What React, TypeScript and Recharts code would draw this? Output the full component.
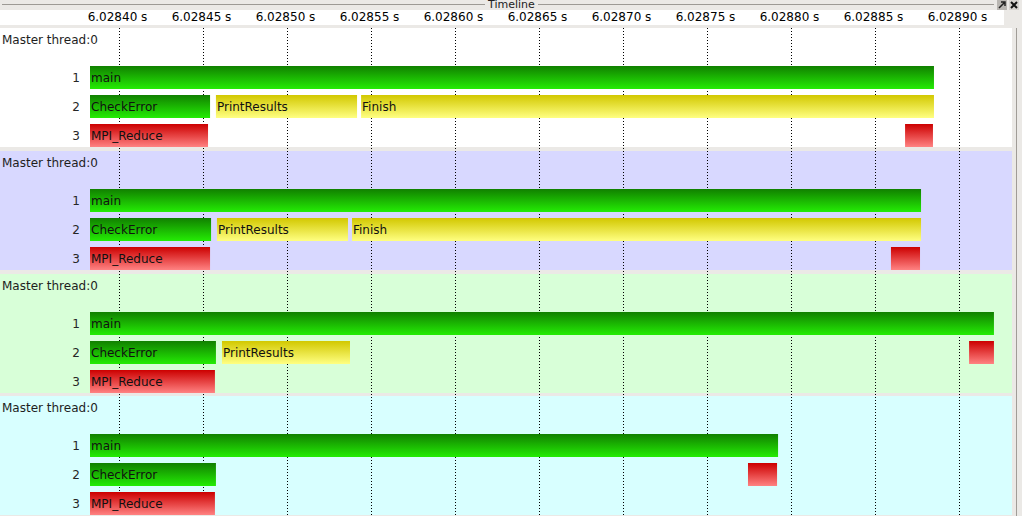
import React from 'react'
import { BarChart, Bar, XAxis, YAxis, CartesianGrid } from 'recharts'

// ---------------------------------------------------------------------------
// data: one list of call segments per process (times in seconds)
// ---------------------------------------------------------------------------
type Kind = 'fn' | 'io' | 'mpi'
type Seg = { row: string; name: string; start: number; end: number; kind: Kind }

const T_MIN = 6.02838244
const T_MAX = 6.02893125
const TIME_TICKS = [
  6.0284, 6.02845, 6.0285, 6.02855, 6.0286, 6.02865, 6.0287, 6.02875, 6.0288, 6.02885, 6.0289,
]
const ROWS = ['1', '2', '3']
const PANEL_TITLES = ['Master thread:0', 'Master thread:0', 'Master thread:0', 'Master thread:0']

const PROC_A: Seg[] = [
  { row: '1', name: 'main', start: 6.02838, end: 6.0288848, kind: 'fn' },
  { row: '2', name: 'CheckError', start: 6.02838, end: 6.0284539, kind: 'fn' },
  { row: '2', name: 'PrintResults', start: 6.0284574, end: 6.0285414, kind: 'io' },
  { row: '2', name: 'Finish', start: 6.0285438, end: 6.0288848, kind: 'io' },
  { row: '3', name: 'MPI_Reduce', start: 6.02838, end: 6.0284527, kind: 'mpi' },
  { row: '3', name: '', start: 6.0288676, end: 6.0288842, kind: 'mpi' },
]

const PROC_B: Seg[] = [
  { row: '1', name: 'main', start: 6.02838, end: 6.0288771, kind: 'fn' },
  { row: '2', name: 'CheckError', start: 6.02838, end: 6.0284545, kind: 'fn' },
  { row: '2', name: 'PrintResults', start: 6.028458, end: 6.028536, kind: 'io' },
  { row: '2', name: 'Finish', start: 6.0285384, end: 6.0288771, kind: 'io' },
  { row: '3', name: 'MPI_Reduce', start: 6.02838, end: 6.0284539, kind: 'mpi' },
  { row: '3', name: '', start: 6.0288592, end: 6.0288765, kind: 'mpi' },
]

const PROC_C: Seg[] = [
  { row: '1', name: 'main', start: 6.02838, end: 6.0289205, kind: 'fn' },
  { row: '2', name: 'CheckError', start: 6.02838, end: 6.0284574, kind: 'fn' },
  { row: '2', name: 'PrintResults', start: 6.028461, end: 6.0285372, kind: 'io' },
  { row: '2', name: '', start: 6.0289057, end: 6.0289205, kind: 'mpi' },
  { row: '3', name: 'MPI_Reduce', start: 6.02838, end: 6.0284568, kind: 'mpi' },
]

const PROC_D: Seg[] = [
  { row: '1', name: 'main', start: 6.02838, end: 6.028792, kind: 'fn' },
  { row: '2', name: 'CheckError', start: 6.02838, end: 6.0284574, kind: 'fn' },
  { row: '2', name: '', start: 6.0287741, end: 6.0287914, kind: 'mpi' },
  { row: '3', name: 'MPI_Reduce', start: 6.02838, end: 6.0284568, kind: 'mpi' },
]

const PROCS = [PROC_A, PROC_B, PROC_C, PROC_D]

// ---------------------------------------------------------------------------
// look
// ---------------------------------------------------------------------------
const FONT = '"DejaVu Sans", Verdana, sans-serif'
const W = 1012
const LEFT = 90
const PANEL_TOP = [28, 151, 274, 396]
const PANEL_H = 119
const PANEL_BG = ['#ffffff', '#d8d8ff', '#d8ffd8', '#d8ffff']
const FRAME = '#ebe9e6'

const GRAD: Record<Kind, [string, string]> = {
  fn: ['#118000', '#24ec04'], // green
  io: ['#d2c800', '#ffff82'], // yellow
  mpi: ['#cc0000', '#ff8282'], // red
}

const SLOTS = [0, 1, 2]

// one row object per timeline row; v0..v2 are [start, end] ranges
function buildRows(segs: Seg[]) {
  return ROWS.map((r) => {
    const mine = segs.filter((s) => s.row === r)
    const obj: any = { row: r }
    SLOTS.forEach((i) => {
      if (mine[i]) {
        obj[`v${i}`] = [mine[i].start, mine[i].end]
        obj[`seg${i}`] = mine[i]
      }
    })
    return obj
  })
}

const fmtTick = (v: number) => `${v.toFixed(5)} s`

function TimeTick(props: any) {
  const { x, payload } = props
  return (
    <text x={x - 2} y={21} textAnchor="middle" fontSize={12} fontFamily={FONT} fill="#000">
      {fmtTick(payload.value)}
    </text>
  )
}

function RowTick(props: any) {
  const { y, payload } = props
  return (
    <text x={80} y={y} dy="0.36em" textAnchor="end" fontSize={12} fontFamily={FONT} fill="#262626">
      {payload.value}
    </text>
  )
}

const makeShape = (slot: number, pid: number) => (p: any) => {
  const seg: Seg | undefined = p.payload && p.payload[`seg${slot}`]
  if (!seg || !(p.width > 0)) return null
  const x0 = Math.max(p.x, LEFT)
  const w = p.x + p.width - x0
  const showText = seg.name && seg.name.length * 7.6 < w - 2
  return (
    <g>
      <rect x={x0} y={p.y} width={w} height={p.height} fill={`url(#grad-${seg.kind}-${pid})`} />
      {showText ? (
        <text
          x={x0 + 1}
          y={p.y + p.height / 2}
          dy="0.36em"
          fontSize={12}
          fontFamily={FONT}
          fill="#111"
        >
          {seg.name}
        </text>
      ) : null}
    </g>
  )
}

function Panel({ pid }: { pid: number }) {
  const rows = buildRows(PROCS[pid])
  return (
    <div style={{ position: 'absolute', left: 0, top: PANEL_TOP[pid] }}>
      <BarChart
        width={W}
        height={122}
        data={rows}
        layout="vertical"
        margin={{ top: 35, right: 0, bottom: 0, left: 0 }}
        barSize={23}
        barGap={-23}
        barCategoryGap={0}
      >
        <defs>
          {(Object.keys(GRAD) as Kind[]).map((k) => (
            <linearGradient key={k} id={`grad-${k}-${pid}`} x1="0" y1="0" x2="0" y2="1">
              <stop offset="0%" stopColor={GRAD[k][0]} />
              <stop offset="100%" stopColor={GRAD[k][1]} />
            </linearGradient>
          ))}
        </defs>
        <XAxis type="number" domain={[T_MIN, T_MAX]} allowDataOverflow hide />
        <YAxis
          type="category"
          dataKey="row"
          width={LEFT}
          axisLine={false}
          tickLine={false}
          tick={<RowTick />}
        />
        {SLOTS.map((i) => (
          <Bar key={i} dataKey={`v${i}`} isAnimationActive={false} shape={makeShape(i, pid)} />
        ))}
      </BarChart>
    </div>
  )
}

export default function App() {
  return (
    <div
      style={{
        position: 'absolute',
        left: 0,
        top: 0,
        width: 1022,
        height: 516,
        background: FRAME,
        overflow: 'hidden',
        fontFamily: FONT,
      }}
    >
      {/* dock title */}
      <div style={{ position: 'absolute', left: 2, top: 4, width: 483, height: 1, background: '#9d9a95' }} />
      <div style={{ position: 'absolute', left: 538, top: 4, width: 456, height: 1, background: '#9d9a95' }} />
      <div style={{ position: 'absolute', left: 488, top: -2, fontSize: 11, lineHeight: '14px', color: '#222' }}>
        Timeline
      </div>
      <svg style={{ position: 'absolute', left: 996, top: 0 }} width={26} height={11}>
        <rect x={1} y={0} width={10} height={10} fill="#b9b6b2" />
        <path d="M3 8 L9 2 M5 2 L9 2 L9 6" stroke="#222" strokeWidth={1.5} fill="none" />
        <rect x={13} y={0} width={10} height={10} fill="#d6d3cf" />
        <path d="M15 2 L21 8 M21 2 L15 8" stroke="#111" strokeWidth={2} />
      </svg>

      {/* axis strip */}
      <div style={{ position: 'absolute', left: 0, top: 10, width: 1004, height: 15, background: '#fff' }} />

      {/* process panels */}
      {PANEL_TOP.map((t, i) => (
        <div
          key={i}
          style={{ position: 'absolute', left: 0, top: t, width: W, height: PANEL_H, background: PANEL_BG[i] }}
        />
      ))}
      <div style={{ position: 'absolute', left: 1016, top: 28, width: 1, height: 488, background: '#a09c97' }} />

      {/* time axis + dotted grid at the ticks only */}
      <div style={{ position: 'absolute', left: 0, top: 0 }}>
        <BarChart width={W} height={516} data={[{ t: T_MIN }]} margin={{ top: 0, right: 0, bottom: 0, left: LEFT }}>
          <XAxis
            dataKey="t"
            type="number"
            orientation="top"
            height={28}
            domain={[T_MIN, T_MAX]}
            ticks={TIME_TICKS}
            interval={0}
            allowDataOverflow
            axisLine={false}
            tickLine={false}
            tick={<TimeTick />}
          />
          <CartesianGrid horizontal={false} syncWithTicks stroke="#000" strokeDasharray="1 2" />
        </BarChart>
      </div>

      {PANEL_TOP.map((t, i) => (
        <React.Fragment key={i}>
          <div
            style={{
              position: 'absolute',
              left: 2,
              top: t + 4,
              fontSize: 12,
              lineHeight: '16px',
              color: '#1e1e1e',
              whiteSpace: 'nowrap',
            }}
          >
            {PANEL_TITLES[i]}
          </div>
          <Panel pid={i} />
        </React.Fragment>
      ))}
    </div>
  )
}
